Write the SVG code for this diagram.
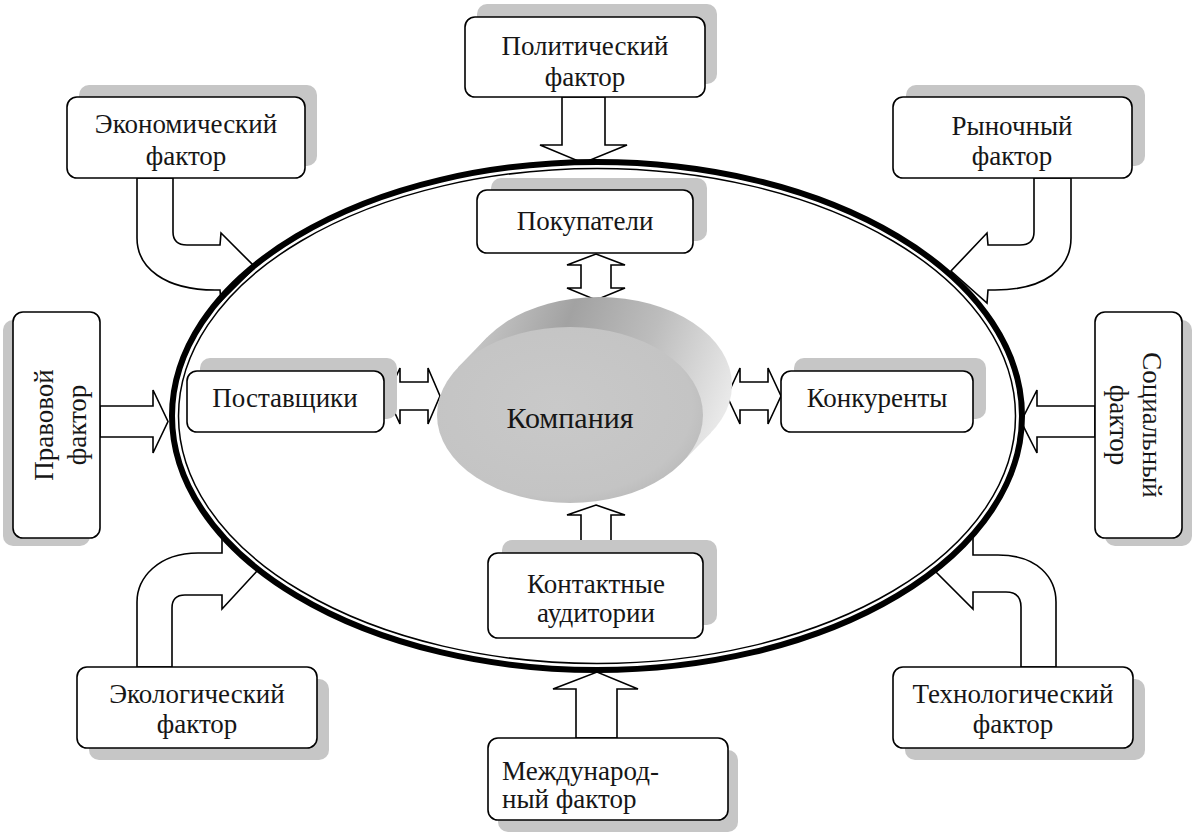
<svg xmlns="http://www.w3.org/2000/svg" width="1196" height="836" viewBox="0 0 1196 836">
<style>
.sh{fill:#c6c6c6}
.box{fill:#fff;stroke:#000;stroke-width:1.6}
.arr{fill:#fff;stroke:#000;stroke-width:1.6;stroke-linejoin:miter}
.t{font-family:"Liberation Serif","Times New Roman",serif;font-size:27px;fill:#161616;text-anchor:middle}
.tl{font-family:"Liberation Serif","Times New Roman",serif;font-size:27px;fill:#161616;text-anchor:start}
</style>
<defs>
<linearGradient id="side" gradientUnits="userSpaceOnUse" x1="470" y1="300" x2="735" y2="400">
<stop offset="0" stop-color="#cdcdcd"/>
<stop offset="0.35" stop-color="#a2a2a2"/>
<stop offset="0.65" stop-color="#bdbdbd"/>
<stop offset="1" stop-color="#ececec"/>
</linearGradient>
<radialGradient id="face" cx="0.45" cy="0.45" r="0.6">
<stop offset="0" stop-color="#c9c9c9"/>
<stop offset="0.85" stop-color="#c4c4c4"/>
<stop offset="1" stop-color="#bababa"/>
</radialGradient>
</defs>

<g id="connectors">
<polygon class="arr" points="562,97 562,145 540,145 583,163 627,145 605,145 605,97"/>
<polygon class="arr" points="576,738 576,689 553,689 597,672 638,689 617,689 617,738"/>
<polygon class="arr" points="100,406 153,406 153,390 168,421.5 153,453 153,437 100,437"/>
<polygon class="arr" points="1095,406 1037,406 1037,390 1021,421.5 1037,453 1037,437 1095,437"/>
<path class="arr" d="M173,178 L173,232 Q173,245 187,245 L220,245 L221,233 L255,267 L221,301 L220,290 L215,290 C165,290 137,268 137,238 L137,178 Z"/>
<path class="arr" d="M1034,178 L1034,232 Q1034,245 1020,245 L988,245 L987,233 L951,271 L987,303 L988,290 L995,290 C1045,290 1071,268 1071,238 L1071,178 Z"/>
<path class="arr" d="M172,667 L172,608 Q172,595 185,595 L222,595 L222,609 L257,571 L222,537 L222,553 L198,553 C158,553 137,578 137,602 L137,667 Z"/>
<path class="arr" d="M1021,667 L1021,607 Q1021,592 1006,592 L973,592 L973,609 L936,572 L973,537 L973,555 L998,555 C1038,555 1056,578 1056,602 L1056,667 Z"/>
<polygon class="arr" points="596,254 625,265 611,265 611,288 625,288 596,300 567,288 581,288 581,265 567,265"/>
<polygon class="arr" points="596,505 625,515 611,515 611,542 625,542 596,553 567,542 581,542 581,515 567,515"/>
<polygon class="arr" points="387,396 400,368 400,382 428,382 428,368 440,396 428,424 428,410 400,410 400,424"/>
<polygon class="arr" points="727,396 740,368 740,382 768,382 768,368 781,396 768,424 768,410 740,410 740,424"/>
</g>

<g id="environment">
<ellipse cx="597" cy="416" rx="425" ry="254" fill="none" stroke="#000" stroke-width="6"/>
<ellipse cx="597" cy="416" rx="418.5" ry="247.5" fill="none" stroke="#000" stroke-width="1.5"/>
</g>

<g id="company">
<ellipse cx="599" cy="385" rx="133" ry="88" fill="url(#side)"/>
<polygon points="457.9,367.6 486.9,337.6 711.1,432.4 682.1,462.4" fill="url(#side)"/>
<ellipse cx="570" cy="415" rx="133" ry="88" fill="url(#face)"/>
<text x="570" y="428" class="t" style="font-size:30px">Компания</text>
</g>

<g id="political">
<rect class="sh" x="477" y="4" width="240" height="80" rx="10"/>
<rect class="box" x="465" y="17" width="240" height="80" rx="10"/>
<text class="t" x="585" y="55">Политический</text>
<text class="t" x="585" y="86">фактор</text>
</g>

<g id="economic">
<rect class="sh" x="79" y="85" width="238" height="81" rx="10"/>
<rect class="box" x="67" y="97" width="238" height="81" rx="10"/>
<text class="t" x="186" y="133">Экономический</text>
<text class="t" x="186" y="165">фактор</text>
</g>

<g id="market">
<rect class="sh" x="906" y="85" width="239" height="81" rx="10"/>
<rect class="box" x="893" y="97" width="239" height="81" rx="10"/>
<text class="t" x="1012" y="135">Рыночный</text>
<text class="t" x="1012" y="165">фактор</text>
</g>

<g id="legal">
<rect class="sh" x="3" y="320" width="87" height="226" rx="10"/>
<rect class="box" x="13" y="312" width="87" height="226" rx="10"/>
<g transform="translate(53,425) rotate(-90)">
<text class="t" x="0" y="0">Правовой</text>
<text class="t" x="0" y="33">фактор</text>
</g>
</g>

<g id="social">
<rect class="sh" x="1105" y="320" width="87" height="226" rx="10"/>
<rect class="box" x="1095" y="312" width="87" height="226" rx="10"/>
<g transform="translate(1143,425) rotate(90)">
<text class="t" x="0" y="0">Социальный</text>
<text class="t" x="0" y="33">фактор</text>
</g>
</g>

<g id="ecological">
<rect class="sh" x="89" y="679" width="240" height="81" rx="10"/>
<rect class="box" x="77" y="667" width="240" height="81" rx="10"/>
<text class="t" x="197" y="703">Экологический</text>
<text class="t" x="197" y="733">фактор</text>
</g>

<g id="technological">
<rect class="sh" x="905" y="679" width="240" height="81" rx="10"/>
<rect class="box" x="893" y="667" width="240" height="81" rx="10"/>
<text class="t" x="1013" y="703">Технологический</text>
<text class="t" x="1013" y="733">фактор</text>
</g>

<g id="international">
<rect class="sh" x="498" y="750" width="240" height="82" rx="10"/>
<rect class="box" x="488" y="738" width="240" height="82" rx="10"/>
<text class="tl" x="502" y="780">Международ-</text>
<text class="tl" x="502" y="808">ный фактор</text>
</g>

<g id="buyers">
<rect class="sh" x="491" y="178" width="216" height="63" rx="10"/>
<rect class="box" x="477" y="190" width="216" height="63" rx="10"/>
<text class="t" x="585" y="230">Покупатели</text>
</g>

<g id="suppliers">
<rect class="sh" x="200" y="358" width="197" height="61" rx="10"/>
<rect class="box" x="187" y="371" width="197" height="61" rx="10"/>
<text class="t" x="285" y="407">Поставщики</text>
</g>

<g id="competitors">
<rect class="sh" x="794" y="358" width="192" height="61" rx="10"/>
<rect class="box" x="781" y="371" width="192" height="61" rx="10"/>
<text class="t" x="877" y="407">Конкуренты</text>
</g>

<g id="contact">
<rect class="sh" x="502" y="540" width="215" height="85" rx="10"/>
<rect class="box" x="488" y="553" width="215" height="85" rx="10"/>
<text class="t" x="596" y="593">Контактные</text>
<text class="t" x="596" y="622">аудитории</text>
</g>
</svg>
